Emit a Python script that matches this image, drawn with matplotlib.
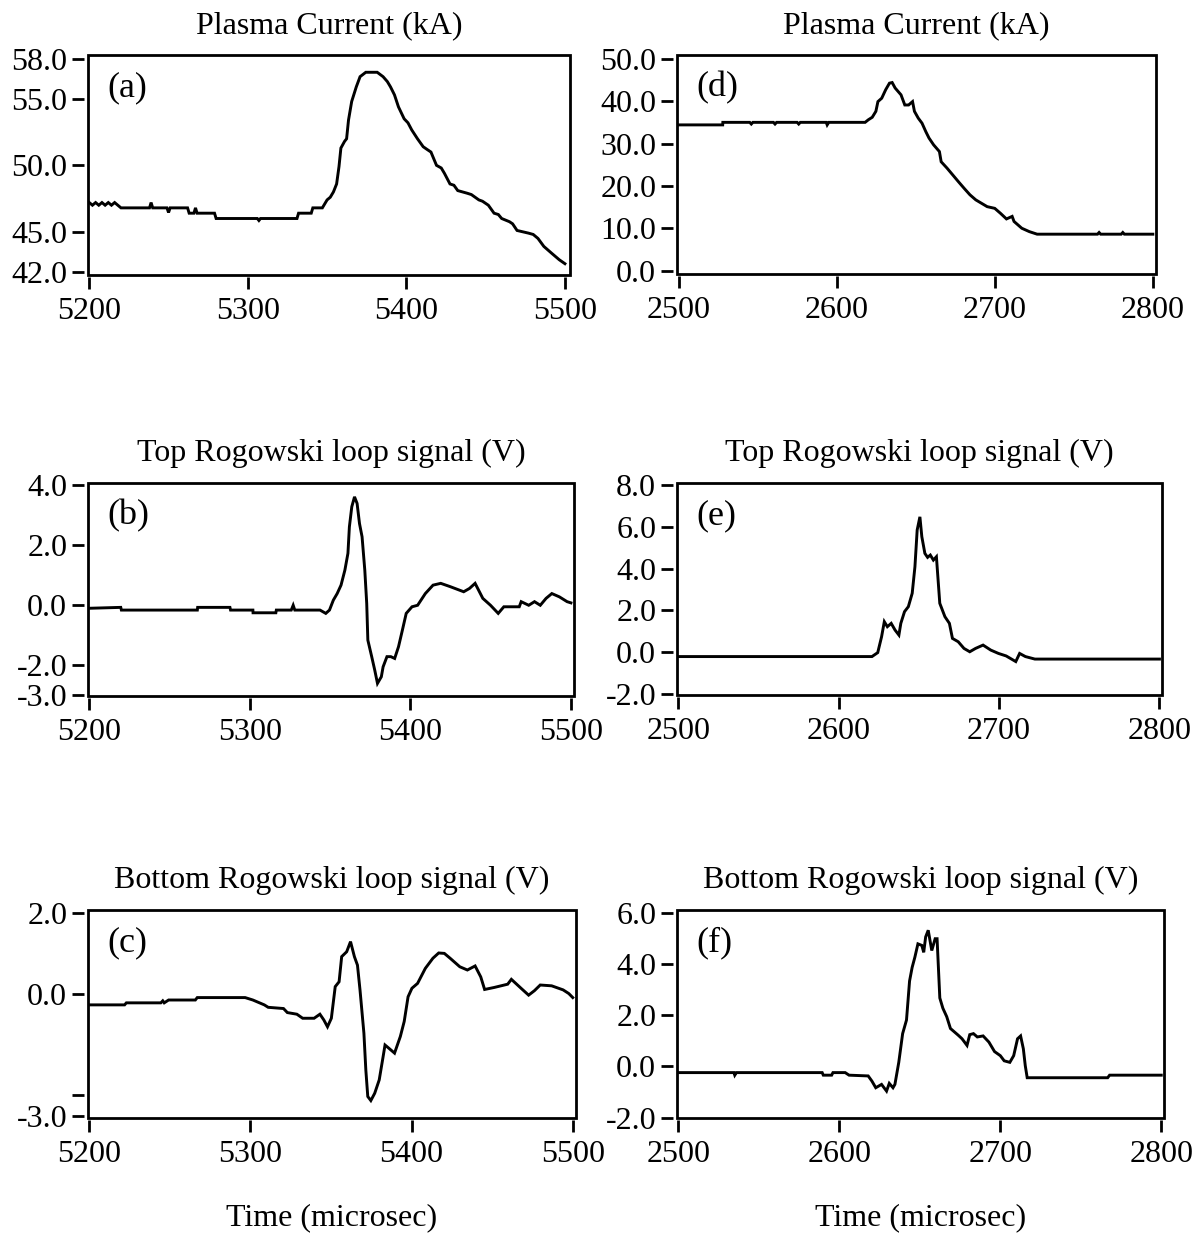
import matplotlib
matplotlib.use("Agg")
import matplotlib.pyplot as plt
from matplotlib.patches import Rectangle

plt.rcParams['font.family'] = ['Liberation Serif', 'DejaVu Serif']
plt.rcParams['font.size'] = 23

# ---------------- data ----------------
# (a) Plasma current, shot 1 (kA)
a_t = [5200, 5202, 5204, 5206, 5208, 5210, 5212, 5214, 5216, 5218, 5220, 5238, 5239, 5240,
       5249, 5250, 5251, 5262, 5263, 5266, 5267, 5268, 5279, 5280, 5306, 5307, 5308, 5331, 5332,
       5340, 5341, 5347, 5350, 5352, 5354, 5356, 5357.5, 5358.7, 5361, 5362.3, 5363.5, 5365.5,
       5368.4, 5370.8, 5374.4, 5381.6, 5385.3, 5388, 5390, 5392.5, 5395, 5398.6, 5401, 5403.4,
       5407, 5410.6, 5413, 5415.5, 5419, 5422, 5424, 5427.5, 5430, 5432.4, 5438.4, 5441, 5445.7,
       5448, 5451.7, 5455.3, 5458, 5460.1, 5465, 5467, 5469.8, 5477, 5480, 5483, 5486.7,
       5491.5, 5496.4, 5500]
a_v = [47.2, 47.0, 47.2, 47.0, 47.2, 47.0, 47.2, 47.0, 47.2, 47.0, 46.8, 46.8, 47.2, 46.8,
       46.8, 46.45, 46.8, 46.8, 46.4, 46.4, 46.8, 46.4, 46.4, 46.0, 46.0, 45.85, 46.0, 46.0, 46.4,
       46.4, 46.8, 46.8, 47.4, 47.6, 48.0, 48.6, 49.9, 51.3, 51.8, 52.0, 53.4, 54.8,
       55.9, 56.67, 57.0, 57.0, 56.67, 56.3, 55.9, 55.3, 54.4, 53.5, 53.2, 52.66,
       52.0, 51.4, 51.2, 51.0, 50.0, 49.8, 49.4, 48.6, 48.5, 48.1, 47.9, 47.8, 47.4,
       47.3, 47.0, 46.4, 46.3, 46.0, 45.76, 45.6, 45.1, 44.9, 44.8, 44.5, 43.9,
       43.4, 42.9, 42.6]

# (b) Top Rogowski loop signal, shot 1 (V)
b_t = [5200, 5219.6, 5220, 5267.3, 5267.5, 5287.6, 5288, 5301.9, 5302, 5316.2, 5316.5, 5325.8,
       5327, 5328, 5343.7, 5347.3, 5349.6, 5352, 5354.4, 5356.8, 5359.2, 5361.1, 5362, 5363.5,
       5365.2, 5366.8, 5368.3, 5369.9, 5371.6, 5372.8, 5373.5, 5375.9, 5377.8, 5379.5, 5381.9,
       5383, 5385.4, 5387.8, 5390.2, 5392.6, 5395, 5397.4, 5401, 5404.5, 5409.3, 5414.1, 5418.9,
       5424.8, 5433.2, 5436.8, 5440.3, 5445.1, 5449.9, 5454.7, 5458.2, 5467.8, 5469, 5473.7,
       5477.3, 5480.9, 5484.5, 5488.1, 5492.8, 5497.6, 5500]
b_v = [-0.10, -0.07, -0.16, -0.16, -0.07, -0.07, -0.16, -0.16, -0.25, -0.25, -0.16, -0.16,
       0.0, -0.16, -0.16, -0.27, -0.16, 0.17, 0.39, 0.67, 1.17, 1.73, 2.61, 3.28,
       3.61, 3.39, 2.72, 2.28, 1.17, 0.06, -1.16, -1.71, -2.16, -2.60, -2.38,
       -2.05, -1.71, -1.71, -1.77, -1.38, -0.83, -0.27, -0.05, 0.0, 0.39, 0.67, 0.73,
       0.62, 0.45, 0.56, 0.73, 0.23, 0.0, -0.27, -0.05, -0.05, 0.12, 0.0,
       0.12, 0.0, 0.23, 0.39, 0.28, 0.12, 0.08]

# (c) Bottom Rogowski loop signal, shot 1 (V)
c_t = [5200, 5221.9, 5223, 5244.4, 5245.6, 5246.5, 5249.2, 5265.8, 5267, 5296.7, 5301.5,
       5308.6, 5311, 5320.5, 5322.9, 5328.8, 5332.4, 5339.5, 5343.1, 5345.5, 5347.8, 5350.2,
       5352.6, 5355, 5356.6, 5359.7, 5362.1, 5364.5, 5366.4, 5368, 5370.4, 5371.6, 5372.8,
       5374.7, 5377.1, 5379.9, 5382.3, 5383.5, 5385.9, 5389.4, 5393, 5395.4, 5397.8, 5400.2,
       5403.7, 5408.5, 5413.2, 5416.8, 5420.3, 5423.9, 5429.9, 5434.6, 5439.4, 5442.9, 5445.3,
       5451.3, 5459.6, 5461.9, 5467.9, 5472.6, 5476.2, 5479.8, 5486.9, 5494, 5497.5, 5500]
c_v = [-0.27, -0.27, -0.22, -0.22, -0.17, -0.22, -0.15, -0.15, -0.09, -0.09, -0.15,
       -0.27, -0.33, -0.36, -0.46, -0.5, -0.6, -0.6, -0.5, -0.64, -0.81, -0.6,
       0.18, 0.30, 0.92, 1.04, 1.29, 0.92, 0.71, 0.09, -0.97, -1.88, -2.53,
       -2.63, -2.45, -2.12, -1.55, -1.26, -1.34, -1.46, -1.05, -0.68, -0.07, 0.14,
       0.26, 0.63, 0.88, 1.01, 1.0, 0.88, 0.67, 0.59, 0.69, 0.42, 0.11,
       0.16, 0.24, 0.36, 0.14, -0.03, 0.08, 0.22, 0.20, 0.10, 0.01, -0.09]

# (d) Plasma current, shot 2 (kA)
d_t = [2500, 2527.9, 2528, 2545, 2546, 2547, 2560, 2561, 2562, 2575, 2576, 2577, 2593.4,
       2594, 2595, 2618, 2620,
       2622.5, 2624.8, 2626.1, 2628.5, 2631, 2633.4, 2635.1, 2637, 2640.7, 2643.1, 2645.5,
       2648, 2649.2, 2651.6, 2654, 2656.4, 2658.4, 2661.3, 2665, 2666.1, 2669.8, 2673.4,
       2677, 2680.7, 2684.3, 2688, 2691.6, 2695.2, 2700, 2703.7, 2707.4, 2711, 2712.2,
       2717.1, 2721.9, 2726.8, 2765, 2766, 2767, 2780, 2781, 2782, 2800]
d_v = [34.4, 34.4, 35.0, 35.0, 34.6, 35.0, 35.0, 34.6, 35.0, 35.0, 34.6, 35.0, 35.0,
       34.4, 35.0, 35.0, 35.6,
       36.2, 37.6, 39.9, 40.7, 42.7, 44.25, 44.4, 43.1, 41.5, 39.1, 39.1,
       39.9, 37.6, 36.0, 34.8, 32.8, 31.3, 29.7, 28.1, 25.7, 24.2, 22.6,
       21.0, 19.4, 17.9, 16.7, 15.9, 15.1, 14.7, 13.5, 12.2, 12.8, 11.6,
       10.0, 9.2, 8.6, 8.6, 9.0, 8.6, 8.6, 9.0, 8.6, 8.6]

# (e) Top Rogowski loop signal, shot 2 (V)
e_t = [2500, 2620.7, 2624.3, 2626.7, 2628.4, 2630.3, 2632.7, 2635.1, 2637.5, 2638.7, 2641,
       2643.4, 2645.8, 2647.5, 2648.9, 2650.6, 2651.8, 2653.7, 2655.4, 2657.1, 2659, 2660.9,
       2663, 2666.2, 2669, 2670.9, 2674.5, 2678.1, 2681.7, 2685.3, 2690, 2694.8, 2699.6,
       2704.4, 2710.4, 2712.8, 2716.4, 2722.3, 2800]
e_v = [-0.21, -0.21, -0.02, 0.74, 1.46, 1.22, 1.38, 1.06, 0.82, 1.38, 1.94,
       2.18, 2.82, 4.09, 5.85, 6.48, 5.53, 4.73, 4.54, 4.65, 4.41, 4.57,
       2.34, 1.70, 1.38, 0.66, 0.50, 0.18, 0.02, 0.18, 0.34, 0.10, -0.06,
       -0.18, -0.45, -0.06, -0.21, -0.33, -0.33]

# (f) Bottom Rogowski loop signal, shot 2 (V)
f_t = [2500, 2534.5, 2535, 2536, 2589.3, 2590, 2595.2, 2596, 2603.6, 2606, 2617.9, 2620.2,
       2622.6, 2626.2, 2629.3, 2631, 2633.3, 2634.5, 2636.9, 2639.3, 2641.7, 2643.6, 2645.2,
       2646.9, 2648.8, 2651.2, 2652.4, 2653.6, 2655.2, 2657.4, 2659.5, 2660.7, 2662.4, 2664.3,
       2666.7, 2669, 2671.4, 2673.8, 2676.2, 2679.3, 2681, 2683.3, 2685.7, 2689.3, 2692.9,
       2696.4, 2700, 2702.4, 2705.9, 2708.3, 2710.7, 2712.6, 2714.3, 2715.5, 2716.7, 2766.7,
       2767.9, 2800]
f_v = [-0.24, -0.24, -0.34, -0.24, -0.24, -0.34, -0.34, -0.24, -0.24, -0.34, -0.37, -0.57,
       -0.83, -0.70, -0.96, -0.66, -0.83, -0.70, 0.16, 1.28, 1.81, 3.33, 3.86,
       4.26, 4.78, 4.72, 4.45, 5.05, 5.31, 4.52, 4.98, 4.98, 2.67, 2.27,
       1.94, 1.48, 1.35, 1.22, 1.08, 0.82, 1.24, 1.28, 1.15, 1.19, 0.95,
       0.58, 0.42, 0.22, 0.16, 0.42, 1.08, 1.19, 0.69, 0.03, -0.44, -0.44,
       -0.34, -0.34]

titles = ["Plasma Current (kA)", "Top Rogowski loop signal (V)", "Bottom Rogowski loop signal (V)"]
panel_labels = ["(a)", "(b)", "(c)", "(d)", "(e)", "(f)"]
x_label = "Time (microsec)"

left_ticks = [5200, 5300, 5400, 5500]
right_ticks = [2500, 2600, 2700, 2800]
yticks = {
    "a": ([42, 45, 50, 55, 58], ["42.0", "45.0", "50.0", "55.0", "58.0"]),
    "b": ([-3, -2, 0, 2, 4], ["-3.0", "-2.0", "0.0", "2.0", "4.0"]),
    "c": ([-3, -2.5, 0, 2], ["-3.0", "", "0.0", "2.0"]),
    "d": ([0, 10, 20, 30, 40, 50], ["0.0", "10.0", "20.0", "30.0", "40.0", "50.0"]),
    "e": ([-2, 0, 2, 4, 6, 8], ["-2.0", "0.0", "2.0", "4.0", "6.0", "8.0"]),
    "f": ([-2, 0, 2, 4, 6], ["-2.0", "0.0", "2.0", "4.0", "6.0"]),
}

# ---------------- layout ----------------
W, H = 1201, 1236
fig = plt.figure(figsize=(W / 100, H / 100), dpi=100)

def add_ax(x0, x1, y0, y1):
    return fig.add_axes([x0 / W, 1 - y1 / H, (x1 - x0) / W, (y1 - y0) / H])

boxes = {
    "a": (88, 570, 55, 275), "b": (88, 574, 483, 696), "c": (88, 576, 910, 1118),
    "d": (677, 1156, 55, 274), "e": (677, 1162, 483, 695), "f": (677, 1164, 910, 1118),
}
xlims = {"a": (5199.2, 5503.2), "b": (5199.2, 5501.9), "c": (5199.2, 5502.0),
         "d": (2499.0, 2802.0), "e": (2499.1, 2801.6), "f": (2499.1, 2801.7)}
ylims = {"a": (41.75, 58.3), "b": (-3.02, 4.07), "c": (-3.06, 2.07),
         "d": (-0.8, 50.9), "e": (-2.05, 8.1), "f": (-2.01, 6.1)}
series = {"a": (a_t, a_v), "b": (b_t, b_v), "c": (c_t, c_v),
          "d": (d_t, d_v), "e": (e_t, e_v), "f": (f_t, f_v)}
title_of = {"a": titles[0], "b": titles[1], "c": titles[2],
            "d": titles[0], "e": titles[1], "f": titles[2]}

for i, key in enumerate(["a", "b", "c", "d", "e", "f"]):
    ax = add_ax(*boxes[key])
    t, v = series[key]
    ax.plot(t, v, color="black", lw=2.1, solid_joinstyle="miter")
    ax.set_xlim(*xlims[key])
    ax.set_ylim(*ylims[key])
    ax.set_xticks(left_ticks if key in "abc" else right_ticks)
    ax.set_yticks(yticks[key][0])
    ax.set_yticklabels(yticks[key][1])
    for s in ["top", "right", "left", "bottom"]:
        ax.spines[s].set_visible(False)
    ax.spines["left"].set_position(("outward", 3))
    ax.spines["bottom"].set_position(("outward", 1.5))
    ax.tick_params(axis="y", direction="out", length=9, width=2, pad=3, labelsize=23)
    ax.tick_params(axis="x", direction="out", length=8.5, width=2, pad=5.5, labelsize=23)
    ax.add_patch(Rectangle((0, 0), 1, 1, transform=ax.transAxes, fill=False,
                           lw=2.0, edgecolor="black", clip_on=False, zorder=5))
    ax.set_title(title_of[key], fontsize=23, pad=15.5)
    ax.annotate(panel_labels[i], xy=(0, 1), xycoords="axes fraction",
                xytext=(19, -16), textcoords="offset pixels",
                ha="left", va="top", fontsize=26)
    if key in "cf":
        ax.set_xlabel(x_label, fontsize=23, labelpad=25)

fig.savefig("out.png", dpi=100)
